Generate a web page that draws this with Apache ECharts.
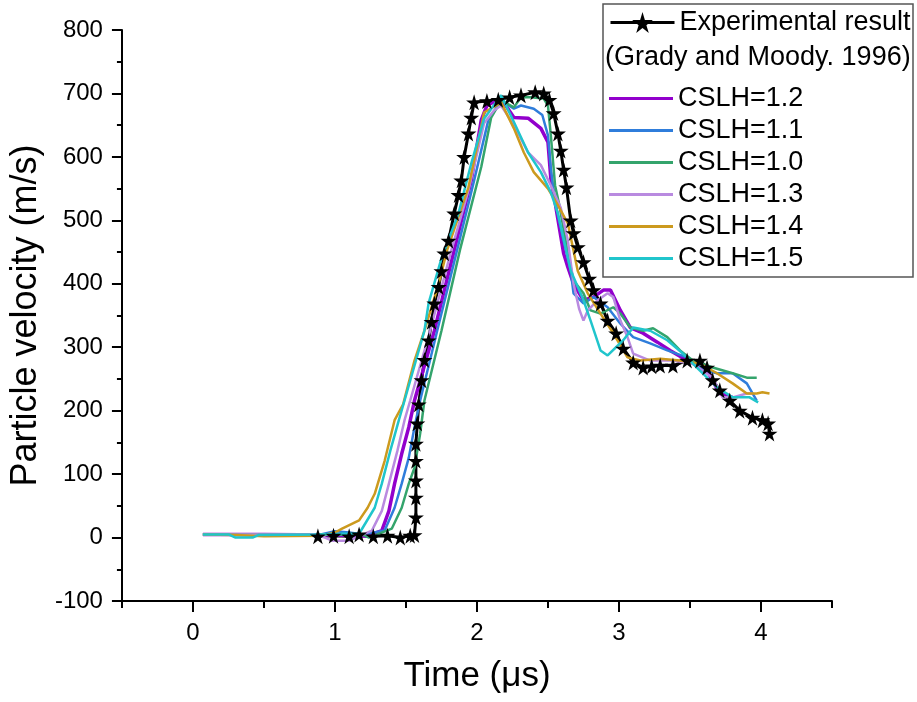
<!DOCTYPE html>
<html>
<head>
<meta charset="utf-8">
<script src="https://cdn.jsdelivr.net/npm/echarts@6/dist/echarts.min.js"></script>
<style>
  html, body { margin: 0; padding: 0; background: #fff; }
  #chart { width: 917px; height: 702px; }
</style>
</head>
<body>
<div id="chart"></div>
<script>
// 数据：时间 (μs) , 粒子速度 (m/s)
var xMajorTicks = [0, 1, 2, 3, 4];
var xMinorTicks = [-0.5, 0.5, 1.5, 2.5, 3.5, 4.5];

var expData = [
  [0.88, 2], [0.99, 3], [1.10, 2], [1.17, 5], [1.27, 2], [1.37, 3], [1.46, 0], [1.53, 3], [1.56, 4],
  [1.57, 32], [1.57, 63], [1.57, 90], [1.57, 121], [1.57, 148], [1.58, 180], [1.59, 210], [1.61, 248],
  [1.63, 280], [1.66, 311], [1.68, 340], [1.70, 369], [1.73, 395], [1.75, 420], [1.77, 448], [1.80, 468],
  [1.84, 511], [1.87, 540], [1.89, 563], [1.91, 600], [1.94, 637], [1.96, 662], [1.98, 686], [2.07, 688],
  [2.15, 690], [2.23, 694], [2.31, 697], [2.41, 702], [2.47, 700], [2.51, 690], [2.54, 669], [2.57, 637],
  [2.59, 610], [2.61, 580], [2.63, 552], [2.66, 500], [2.68, 480], [2.71, 458], [2.75, 434], [2.79, 408],
  [2.82, 390], [2.87, 369], [2.92, 342], [2.98, 322], [3.03, 298], [3.10, 276], [3.17, 268], [3.23, 270],
  [3.29, 271], [3.38, 271], [3.48, 279], [3.57, 279], [3.62, 268], [3.66, 248], [3.71, 232], [3.78, 216],
  [3.85, 200], [3.94, 189], [4.01, 185], [4.05, 180], [4.06, 164]
];

var cslh12 = [
  [0.07, 5], [0.5, 5], [1.0, 4], [1.15, 3], [1.22, 2], [1.33, 11], [1.38, 42], [1.42, 85], [1.47, 132],
  [1.52, 174], [1.56, 216], [1.70, 326], [1.84, 453], [1.96, 563], [2.03, 658], [2.07, 681], [2.17, 692],
  [2.26, 662], [2.36, 661], [2.45, 645], [2.50, 623], [2.52, 566], [2.55, 528], [2.61, 448], [2.64, 426],
  [2.68, 400], [2.75, 374], [2.82, 379], [2.89, 390], [2.94, 390], [3.01, 358], [3.08, 331], [3.17, 322],
  [3.27, 308], [3.36, 295], [3.48, 279], [3.62, 263], [3.71, 227], [3.80, 221]
];

var cslh11 = [
  [0.07, 5], [0.5, 5], [0.9, 5], [1.0, 10], [1.1, 8], [1.2, 5], [1.35, 11], [1.42, 47], [1.47, 85],
  [1.52, 126], [1.56, 174], [1.60, 216], [1.72, 326], [1.86, 453], [1.98, 563], [2.08, 658], [2.17, 689],
  [2.26, 676], [2.31, 681], [2.40, 676], [2.46, 666], [2.50, 634], [2.52, 582], [2.55, 528], [2.61, 468],
  [2.66, 421], [2.68, 385], [2.75, 369], [2.82, 379], [2.92, 363], [3.01, 337], [3.10, 316], [3.22, 306],
  [3.34, 295], [3.48, 284], [3.62, 263], [3.69, 259], [3.80, 259], [3.90, 243], [3.97, 216]
];

var cslh10 = [
  [0.07, 5], [0.5, 5], [1.0, 5], [1.2, 4], [1.24, 0], [1.40, 14], [1.47, 47], [1.52, 85], [1.56, 110],
  [1.60, 164], [1.63, 216], [1.75, 326], [1.88, 453], [2.03, 584], [2.10, 662], [2.17, 689], [2.26, 678],
  [2.31, 694], [2.38, 694], [2.47, 692], [2.50, 681], [2.52, 634], [2.55, 555], [2.58, 524], [2.64, 448],
  [2.68, 405], [2.75, 385], [2.80, 358], [2.87, 353], [2.96, 363], [3.01, 353], [3.08, 331], [3.17, 326],
  [3.24, 330], [3.34, 316], [3.43, 295], [3.52, 279], [3.66, 268], [3.80, 259], [3.90, 252], [3.97, 252]
];

var cslh13 = [
  [0.07, 5], [0.5, 5], [0.85, 5], [0.93, 0], [0.98, -5], [1.10, -5], [1.26, 11], [1.33, 42], [1.38, 85],
  [1.44, 137], [1.49, 185], [1.53, 216], [1.67, 326], [1.82, 453], [1.94, 547], [2.05, 653], [2.12, 673],
  [2.17, 681], [2.26, 650], [2.36, 607], [2.45, 587], [2.52, 555], [2.59, 520], [2.64, 468], [2.68, 400],
  [2.72, 360], [2.75, 342], [2.78, 358], [2.85, 374], [2.92, 385], [2.96, 379], [3.01, 342], [3.06, 316],
  [3.10, 290], [3.22, 279], [3.38, 279], [3.52, 274], [3.66, 252], [3.73, 221], [3.80, 221], [3.90, 227],
  [3.94, 227]
];

var cslh14 = [
  [0.07, 5], [0.3, 4], [0.5, 2], [0.9, 3], [1.0, 8], [1.05, 14], [1.17, 27], [1.23, 47], [1.28, 69],
  [1.35, 121], [1.42, 185], [1.48, 210], [1.56, 279], [1.63, 326], [1.73, 400], [1.79, 453], [1.94, 552],
  [2.01, 626], [2.05, 670], [2.17, 686], [2.26, 645], [2.33, 607], [2.40, 576], [2.50, 550], [2.57, 524],
  [2.64, 495], [2.71, 420], [2.78, 385], [2.87, 353], [2.96, 322], [3.06, 284], [3.15, 279], [3.29, 282],
  [3.43, 279], [3.57, 274], [3.69, 259], [3.80, 243], [3.90, 227], [3.97, 227], [4.01, 229], [4.06, 227]
];

var cslh15 = [
  [0.07, 5], [0.25, 5], [0.3, 0], [0.42, 0], [0.46, 4], [0.9, 5], [1.05, 6], [1.17, 6], [1.28, 47],
  [1.33, 85], [1.39, 137], [1.45, 185], [1.49, 216], [1.63, 326], [1.66, 370], [1.75, 440], [1.87, 511],
  [1.96, 590], [2.05, 660], [2.17, 697], [2.26, 655], [2.36, 607], [2.45, 576], [2.52, 544], [2.57, 511],
  [2.66, 421], [2.75, 374], [2.80, 342], [2.87, 295], [2.92, 287], [3.03, 311], [3.10, 331], [3.22, 326],
  [3.34, 311], [3.45, 290], [3.57, 263], [3.69, 237], [3.80, 221], [3.92, 221], [3.98, 213]
];

var simNames = ['CSLH=1.2', 'CSLH=1.1', 'CSLH=1.0', 'CSLH=1.3', 'CSLH=1.4', 'CSLH=1.5'];
var simData = [cslh12, cslh11, cslh10, cslh13, cslh14, cslh15];
var simColors = ['#9200cc', '#2f7ddb', '#34a46c', '#b98ae0', '#cc9a1e', '#20c5cc'];
var simWidths = [3.5, 2.5, 2.5, 2.5, 2.5, 2.5];

var FONT = 'Liberation Sans, Arial, sans-serif';
var starPath = 'path://M50,0 L61,35 L98,35 L68,57 L79,91 L50,70 L21,91 L32,57 L2,35 L39,35 Z';

var series = [{
  name: 'Experimental result',
  type: 'line',
  data: expData,
  symbol: starPath,
  symbolSize: 16,
  itemStyle: { color: '#000' },
  lineStyle: { color: '#000', width: 3 },
  animation: false
}];
for (var i = 0; i < simNames.length; i++) {
  series.push({
    name: simNames[i],
    type: 'line',
    data: simData[i],
    showSymbol: false,
    symbol: 'none',
    lineStyle: { color: simColors[i], width: simWidths[i] },
    itemStyle: { color: simColors[i] },
    animation: false
  });
}

// 图例：CSLH 只画线段
var simLegend = [];
for (var j = 0; j < simNames.length; j++) {
  simLegend.push({ name: simNames[j], icon: 'rect', itemStyle: { color: simColors[j] } });
}

var myChart = echarts.init(document.getElementById('chart'));
var option = {
  backgroundColor: '#fff',
  animation: false,
  grid: { left: 120, right: 85, top: 30, bottom: 101 },
  xAxis: [{
    type: 'value',
    min: -0.5,
    max: 4.5,
    name: 'Time (μs)',
    nameLocation: 'middle',
    nameGap: 58,
    nameTextStyle: { fontSize: 35, color: '#000', fontFamily: FONT },
    axisLine: { onZero: false, lineStyle: { color: '#000', width: 2 } },
    axisTick: { customValues: xMajorTicks, length: 11, lineStyle: { color: '#000', width: 2 } },
    axisLabel: { customValues: xMajorTicks, fontSize: 24, color: '#000', fontFamily: FONT, margin: 20 },
    splitLine: { show: false }
  }, {
    type: 'value',
    min: -0.5,
    max: 4.5,
    position: 'bottom',
    axisLine: { show: false, onZero: false },
    axisTick: { customValues: xMinorTicks, length: 7, lineStyle: { color: '#000', width: 2 } },
    axisLabel: { show: false },
    splitLine: { show: false }
  }],
  yAxis: {
    type: 'value',
    min: -100,
    max: 800,
    interval: 100,
    name: 'Particle velocity (m/s)',
    nameLocation: 'middle',
    nameGap: 67,
    nameTextStyle: { fontSize: 36, color: '#000', fontFamily: FONT },
    axisLine: { show: true, onZero: false, lineStyle: { color: '#000', width: 2 } },
    axisTick: { show: true, length: 10, lineStyle: { color: '#000', width: 2 } },
    minorTick: { show: true, splitNumber: 2, length: 5, lineStyle: { color: '#000', width: 2 } },
    axisLabel: { fontSize: 24, color: '#000', fontFamily: FONT, margin: 19 },
    splitLine: { show: false }
  },
  legend: [{
    data: ['Experimental result'],
    orient: 'vertical',
    left: 604,
    top: 4,
    itemWidth: 64,
    itemHeight: 26,
    lineStyle: { color: '#000', width: 3 },
    textStyle: { fontSize: 27, color: '#000', fontFamily: FONT }
  }, {
    data: simLegend,
    orient: 'vertical',
    left: 604,
    top: 79,
    itemWidth: 64,
    itemHeight: 3,
    itemGap: 3,
    textStyle: { fontSize: 27, color: '#000', fontFamily: FONT, lineHeight: 29 }
  }],
  graphic: [{
    type: 'rect',
    shape: { x: 603, y: 4, width: 310, height: 273 },
    style: { fill: 'none', stroke: '#555', lineWidth: 1.5 },
    z: 0
  }, {
    type: 'text',
    left: 605,
    top: 44,
    style: { text: '(Grady and Moody. 1996)', fontSize: 27, fill: '#000', fontFamily: FONT }
  }],
  series: series
};
myChart.setOption(option);
</script>
</body>
</html>
